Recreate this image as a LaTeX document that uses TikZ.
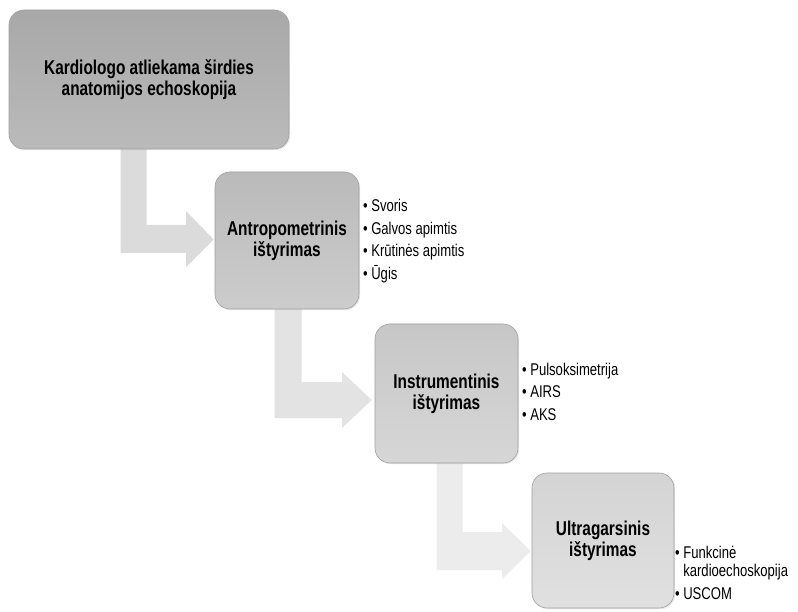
\documentclass[tikz,border=0pt]{standalone}
\usepackage{fontspec}
\setmainfont{Liberation Sans}[FakeStretch=0.77]
\usetikzlibrary{calc,backgrounds,shadows}
\begin{document}
\begin{tikzpicture}[x=1pt,y=-1pt,
  box/.style={rectangle, rounded corners=15pt, draw=gray!75, line width=0.6pt,
    align=center, font=\fontsize{20}{21}\selectfont\bfseries, inner sep=0pt,
    drop shadow={opacity=0.18, shadow xshift=1.2pt, shadow yshift=-1.2pt}},
  bl/.style={anchor=west, inner sep=0pt, align=left, font=\fontsize{17}{22.5}\selectfont},
  arrow1/.style={fill=black!14},
  arrow2/.style={fill=black!11},
  arrow3/.style={fill=black!7.5}]
\useasboundingbox (0,0) rectangle (798,612);

\node[box, minimum width=280pt, minimum height=139pt, top color=black!34, bottom color=black!27] (b1) at (149,79.5)
  {Kardiologo atliekama širdies\\anatomijos echoskopija};
\node[box, minimum width=144pt, minimum height=137pt, top color=black!27, bottom color=black!20] (b2) at (287,240.5)
  {Antropometrinis\\ištyrimas};
\node[box, minimum width=143pt, minimum height=139pt, top color=black!22, bottom color=black!16] (b3) at (446.5,393.5)
  {Instrumentinis\\ištyrimas};
\node[box, minimum width=142pt, minimum height=135pt, top color=black!17, bottom color=black!12] (b4) at (603,540.5)
  {Ultragarsinis\\ištyrimas};

\node[bl] (l2) at (363,241) {\begin{tabular}{@{}l@{\hspace{3.5pt}}l@{}}•&Svoris\\•&Galvos apimtis\\•&Krūtinės apimtis\\•&Ūgis\end{tabular}};
\node[bl] (l3) at (522,393) {\begin{tabular}{@{}l@{\hspace{3.5pt}}l@{}}•&Pulsoksimetrija\\•&AIRS\\•&AKS\end{tabular}};
\node[bl] (l4) at (675,574) {\begin{tabular}{@{}l@{\hspace{3.5pt}}l@{}}•&Funkcinė\\[-4pt]&kardioechoskopija\\•&USCOM\end{tabular}};

\begin{pgfonlayer}{background}
\fill[white] (0,0) rectangle (798,612);
% arrow 1: b1 -> b2
\fill[arrow1] ($(b1.south west)+(112,0)$) -- ($(b1.south west)+(138,0)$) |- (186,225)
  -- (186,211) -- ($(b2.west)+(-1,-1)$) -- (186,267) -- (186,253) -| cycle;
% arrow 2: b2 -> b3
\fill[arrow2] ($(b2.south west)+(60,0)$) -- ($(b2.south west)+(87,0)$) |- (342,382)
  -- (342,372) -- ($(b3.west)+(-3,6.5)$) -- (342,428) -- (342,418) -| cycle;
% arrow 3: b3 -> b4
\fill[arrow3] ($(b3.south west)+(62,0)$) -- ($(b3.south west)+(88,0)$) |- (502,532)
  -- (502,523) -- ($(b4.west)+(-1,10.5)$) -- (502,579) -- (502,570) -| cycle;
\end{pgfonlayer}
\end{tikzpicture}
\end{document}
